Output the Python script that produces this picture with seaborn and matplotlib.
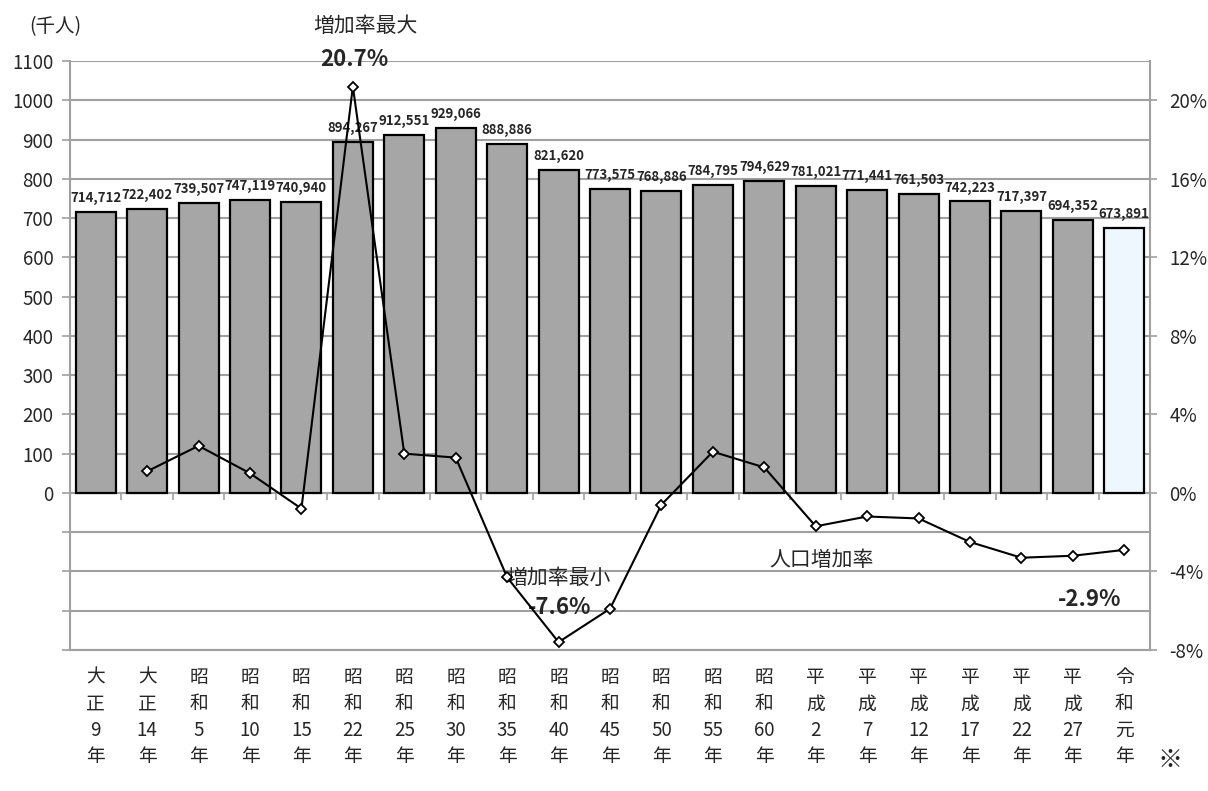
import numpy as np
import pandas as pd
import matplotlib.pyplot as plt
import matplotlib.ticker as mticker
import seaborn as sns

# data ---------------------------------------------------------------
eras = ["大正", "大正", "昭和", "昭和", "昭和", "昭和", "昭和", "昭和", "昭和", "昭和",
        "昭和", "昭和", "昭和", "昭和", "平成", "平成", "平成", "平成", "平成", "平成", "令和"]
years = ["9", "14", "5", "10", "15", "22", "25", "30", "35", "40",
         "45", "50", "55", "60", "2", "7", "12", "17", "22", "27", "元"]
population = [714712, 722402, 739507, 747119, 740940, 894267, 912551, 929066, 888886, 821620,
              773575, 768886, 784795, 794629, 781021, 771441, 761503, 742223, 717397, 694352, 673891]
# growth rate (%) vs previous survey, first year has none
growth = [np.nan, 1.1, 2.4, 1.0, -0.8, 20.7, 2.0, 1.8, -4.3, -7.6,
          -5.9, -0.6, 2.1, 1.3, -1.7, -1.2, -1.3, -2.5, -3.3, -3.2, -2.9]

labels = ["\n".join(list(e) + [y, "年"]) for e, y in zip(eras, years)]
df = pd.DataFrame({"label": labels, "pop": [p / 1000 for p in population], "rate": growth})
df["idx"] = range(len(df))

# style --------------------------------------------------------------
sns.set_style("white")
plt.rcParams["font.family"] = ["Noto Sans CJK JP", "DejaVu Sans"]
grid_c = "#A0A0A0"

fig = plt.figure(figsize=(12.08, 7.91), dpi=100)
ax = fig.add_axes([70 / 1208, 1 - 650 / 791, 1080 / 1208, 589 / 791])

bar_colors = ["#A6A6A6"] * (len(df) - 1) + ["#EEF7FD"]
sns.barplot(data=df, x="label", y="pop", hue="label", palette=bar_colors, legend=False,
            width=0.78, edgecolor="black", linewidth=1.6, saturation=1, ax=ax, zorder=3)

ax.set_xlim(-0.5, len(df) - 0.5)
ax.set_ylim(-400, 1100)
ax.set_yticks(np.arange(-400, 1101, 100))
ax.yaxis.set_major_formatter(mticker.FuncFormatter(lambda v, p: f"{v:.0f}" if v >= 0 else ""))
ax.grid(axis="y", color=grid_c, linewidth=1.5, zorder=0)
ax.set_axisbelow(True)
ax.set_xlabel("")
ax.set_ylabel("")
ax.tick_params(axis="y", length=6, color=grid_c, width=1.2, labelsize=13.5, pad=6)
ax.tick_params(axis="x", length=0, labelsize=13.5, pad=12)
for lab in ax.get_xticklabels():
    lab.set_linespacing(1.35)
    lab.set_va("top")
for s in ["top", "right"]:
    ax.spines[s].set_visible(False)
for s in ["left", "bottom"]:
    ax.spines[s].set_color(grid_c)
    ax.spines[s].set_linewidth(1.5)

# small ticks between categories along the zero line
sec = ax.secondary_xaxis(400 / 1500)
sec.set_xticks(np.arange(-0.5, len(df), 1.0))
sec.tick_params(length=5, color=grid_c, width=1.2, labelbottom=False, direction="out")
sec.spines["bottom"].set_visible(False)

# value labels
for i, v in enumerate(population):
    ax.annotate(f"{v:,}", (i, v / 1000), xytext=(0, 5), textcoords="offset points",
                ha="center", va="bottom", fontsize=9.5, fontweight="bold", zorder=5)

# growth rate line on the right axis
ax2 = ax.twinx()
sns.lineplot(data=df, x="idx", y="rate", color="black", linewidth=1.5, marker="D",
             markersize=5, markerfacecolor="white", markeredgecolor="black",
             markeredgewidth=1.3, ax=ax2, zorder=6)
ax2.set_ylim(-8, 22)
ax2.set_yticks(np.arange(-8, 21, 4))
ax2.yaxis.set_major_formatter(mticker.FuncFormatter(lambda v, p: f"{v:.0f}%"))
ax2.set_ylabel("")
ax2.tick_params(axis="y", length=5, color=grid_c, width=1.2, labelsize=13.5, pad=9)
for s in ["top", "left", "bottom"]:
    ax2.spines[s].set_visible(False)
ax2.spines["right"].set_color(grid_c)
ax2.spines["right"].set_linewidth(1.5)

# annotations
ax2.text(5.24, 23.8, "増加率最大", ha="center", va="center", fontsize=15, clip_on=False)
ax2.text(5.02, 22.1, "20.7%", ha="center", va="center", fontsize=16, fontweight="bold", clip_on=False)
ax2.text(8.99, -4.33, "増加率最小", ha="center", va="center", fontsize=15)
ax2.text(9.03, -5.85, "-7.6%", ha="center", va="center", fontsize=16, fontweight="bold")
ax2.text(14.12, -3.41, "人口増加率", ha="center", va="center", fontsize=15)
ax2.text(19.33, -5.45, "-2.9%", ha="center", va="center", fontsize=16, fontweight="bold")

fig.text(55 / 1208, 1 - 27 / 791, "(千人)", ha="center", va="center", fontsize=14)
fig.text(1170 / 1208, 1 - 760 / 791, "※", ha="center", va="center", fontsize=18)

fig.savefig("out.png", dpi=100, facecolor="white")
